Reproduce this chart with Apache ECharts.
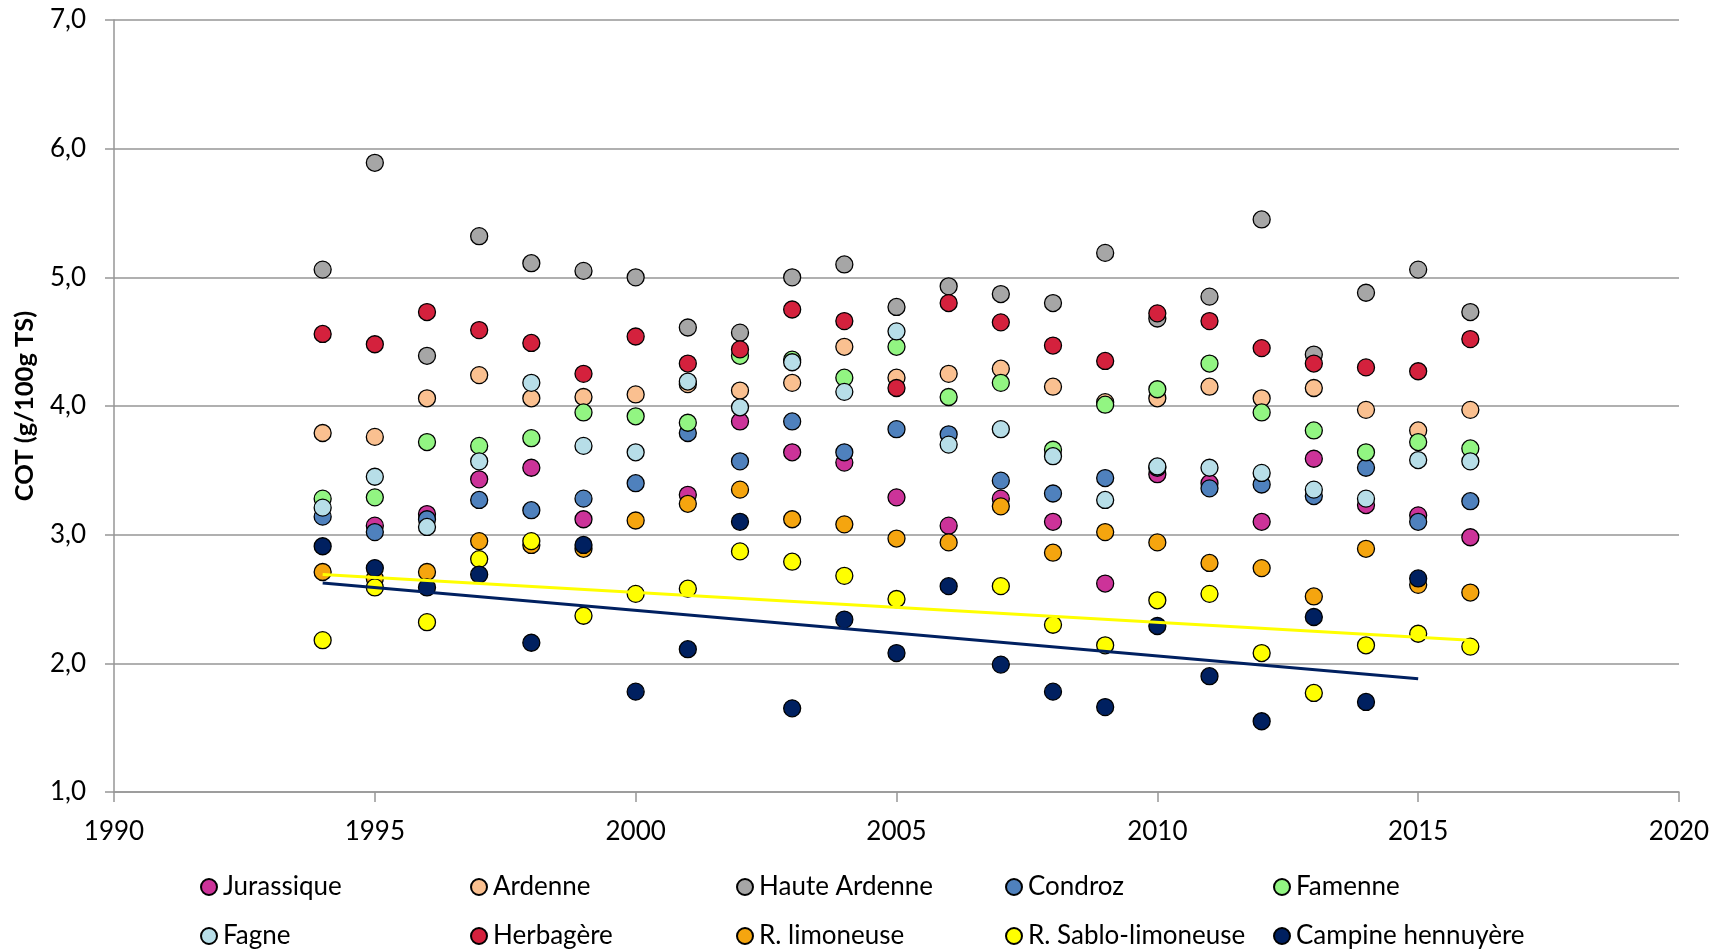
<!DOCTYPE html>
<html>
<head>
<meta charset="utf-8">
<script src="https://cdn.jsdelivr.net/npm/echarts@6/dist/echarts.min.js"></script>
<style>
  html, body { margin: 0; padding: 0; background: #fff; }
  #chart { width: 1722px; height: 950px; }
</style>
</head>
<body>
<div id="chart"></div>
<script>
// Soil organic carbon (COT, g/100g TS) per agricultural region, 1994-2016
const years = [1994, 1995, 1996, 1997, 1998, 1999, 2000, 2001, 2002, 2003, 2004, 2005,
               2006, 2007, 2008, 2009, 2010, 2011, 2012, 2013, 2014, 2015, 2016];

const jurassique   = [null, 3.07, 3.16, 3.43, 3.52, 3.12, null, 3.31, 3.88, 3.64, 3.56, 3.29,
                      3.07, 3.28, 3.10, 2.62, 3.47, 3.40, 3.10, 3.59, 3.23, 3.15, 2.98];
const ardenne      = [3.79, 3.76, 4.06, 4.24, 4.06, 4.07, 4.09, 4.17, 4.12, 4.18, 4.46, 4.22,
                      4.25, 4.29, 4.15, 4.03, 4.06, 4.15, 4.06, 4.14, 3.97, 3.81, 3.97];
const hauteArdenne = [5.06, 5.89, 4.39, 5.32, 5.11, 5.05, 5.00, 4.61, 4.57, 5.00, 5.10, 4.77,
                      4.93, 4.87, 4.80, 5.19, 4.68, 4.85, 5.45, 4.40, 4.88, 5.06, 4.73];
const condroz      = [3.14, 3.02, 3.12, 3.27, 3.19, 3.28, 3.40, 3.79, 3.57, 3.88, 3.64, 3.82,
                      3.78, 3.42, 3.32, 3.44, 3.52, 3.36, 3.39, 3.30, 3.52, 3.10, 3.26];
const famenne      = [3.28, 3.29, 3.72, 3.69, 3.75, 3.95, 3.92, 3.87, 4.39, 4.36, 4.22, 4.46,
                      4.07, 4.18, 3.66, 4.01, 4.13, 4.33, 3.95, 3.81, 3.64, 3.72, 3.67];
const fagne        = [3.21, 3.45, 3.06, 3.57, 4.18, 3.69, 3.64, 4.19, 3.99, 4.34, 4.11, 4.58,
                      3.70, 3.82, 3.61, 3.27, 3.53, 3.52, 3.48, 3.35, 3.28, 3.58, 3.57];
const herbagere    = [4.56, 4.48, 4.73, 4.59, 4.49, 4.25, 4.54, 4.33, 4.44, 4.75, 4.66, 4.14,
                      4.80, 4.65, 4.47, 4.35, 4.72, 4.66, 4.45, 4.33, 4.30, 4.27, 4.52];
const limoneuse    = [2.71, 2.66, 2.71, 2.95, 2.92, 2.89, 3.11, 3.24, 3.35, 3.12, 3.08, 2.97,
                      2.94, 3.22, 2.86, 3.02, 2.94, 2.78, 2.74, 2.52, 2.89, 2.61, 2.55];
const sabloLimon   = [2.18, 2.59, 2.32, 2.81, 2.95, 2.37, 2.54, 2.58, 2.87, 2.79, 2.68, 2.50,
                      null, 2.60, 2.30, 2.14, 2.49, 2.54, 2.08, 1.77, 2.14, 2.23, 2.13];
const campine      = [2.91, 2.74, 2.59, 2.69, 2.16, 2.92, 1.78, 2.11, 3.10, 1.65, 2.34, 2.08,
                      2.60, 1.99, 1.78, 1.66, 2.29, 1.90, 1.55, 2.36, 1.70, 2.66, null];

const regionNames = ['Jurassique', 'Ardenne', 'Haute Ardenne', 'Condroz', 'Famenne',
                     'Fagne', 'Herbagère', 'R. limoneuse', 'R. Sablo-limoneuse', 'Campine hennuyère'];
const regionValues = [jurassique, ardenne, hauteArdenne, condroz, famenne,
                      fagne, herbagere, limoneuse, sabloLimon, campine];

const xTicks = { min: 1990, max: 2020, step: 5 };
const yTicks = { min: 1, max: 7, step: 1 };

const regionColors = ['#CC3399', '#FAC090', '#A6A6A6', '#4F81BD', '#92F582',
                      '#B7DEE8', '#D4213D', '#F5A50F', '#FFFF00', '#002060'];

function pairs(values) {
  const out = [];
  values.forEach((v, i) => { if (v !== null) out.push([years[i], v]); });
  return out;
}

// Least-squares linear trend, drawn between the first and last measured year
function trend(values) {
  const p = pairs(values);
  const n = p.length;
  const mx = p.reduce((s, d) => s + d[0], 0) / n;
  const my = p.reduce((s, d) => s + d[1], 0) / n;
  let sxy = 0, sxx = 0;
  p.forEach(d => { sxy += (d[0] - mx) * (d[1] - my); sxx += (d[0] - mx) * (d[0] - mx); });
  const slope = sxy / sxx;
  const x0 = p[0][0], x1 = p[n - 1][0];
  return [[x0, my + slope * (x0 - mx)], [x1, my + slope * (x1 - mx)]];
}

const FONT = 'Lato, "Open Sans", sans-serif';
const AXIS_GREY = '#969696';

const series = regionNames.map((name, i) => ({
  name: name,
  type: 'scatter',
  data: pairs(regionValues[i]),
  symbol: 'circle',
  symbolSize: 17,
  itemStyle: { color: regionColors[i], borderColor: '#000', borderWidth: 1.3, opacity: 1 },
  z: 2
}));

[[sabloLimon, '#FFFF00', 'Tendance R. Sablo-limoneuse'],
 [campine, '#002060', 'Tendance Campine hennuyère']].forEach(([vals, col, nm]) => {
  series.push({
    name: nm,
    type: 'line',
    data: trend(vals),
    showSymbol: false,
    symbol: 'none',
    lineStyle: { color: col, width: 3 },
    z: 4,
    silent: true
  });
});

// Legend laid out as a 5 x 2 grid
const legendCols = [195, 465, 731, 1000, 1268];
const legendRows = [869, 918];
const legends = regionNames.map((name, i) => ({
  data: [name],
  left: legendCols[i % 5],
  top: legendRows[Math.floor(i / 5)],
  icon: 'circle',
  itemWidth: 16,
  itemHeight: 16,
  itemGap: 0,
  selectedMode: false,
  textStyle: { fontFamily: FONT, fontSize: 26, color: '#000', padding: [0, 0, 0, 1] }
}));

const chart = echarts.init(document.getElementById('chart'), null, { renderer: 'canvas' });
chart.setOption({
  animation: false,
  backgroundColor: '#fff',
  grid: { left: 114, right: 43, top: 20, bottom: 158, containLabel: false },
  legend: legends,
  xAxis: {
    type: 'value',
    min: xTicks.min, max: xTicks.max, interval: xTicks.step,
    axisLine: { show: true, lineStyle: { color: AXIS_GREY, width: 1.5 } },
    axisTick: { show: true, length: 10, lineStyle: { color: AXIS_GREY, width: 1.5 } },
    splitLine: { show: false },
    axisLabel: { fontFamily: FONT, fontSize: 26, color: '#000', margin: 27, formatter: v => String(v) }
  },
  yAxis: {
    type: 'value',
    min: yTicks.min, max: yTicks.max, interval: yTicks.step,
    name: 'COT (g/100g TS)',
    nameLocation: 'middle',
    nameRotate: 90,
    nameGap: 76,
    nameTextStyle: { fontFamily: FONT, fontSize: 25.5, fontWeight: 'bold', color: '#000' },
    axisLine: { show: true, lineStyle: { color: AXIS_GREY, width: 1.5 } },
    axisTick: { show: true, length: 9, lineStyle: { color: AXIS_GREY, width: 1.5 } },
    splitLine: { show: true, lineStyle: { color: AXIS_GREY, width: 1.5 } },
    axisLabel: {
      fontFamily: FONT, fontSize: 26, color: '#000', margin: 28,
      formatter: v => v.toFixed(1).replace('.', ',')
    }
  },
  series: series
});
</script>
</body>
</html>
